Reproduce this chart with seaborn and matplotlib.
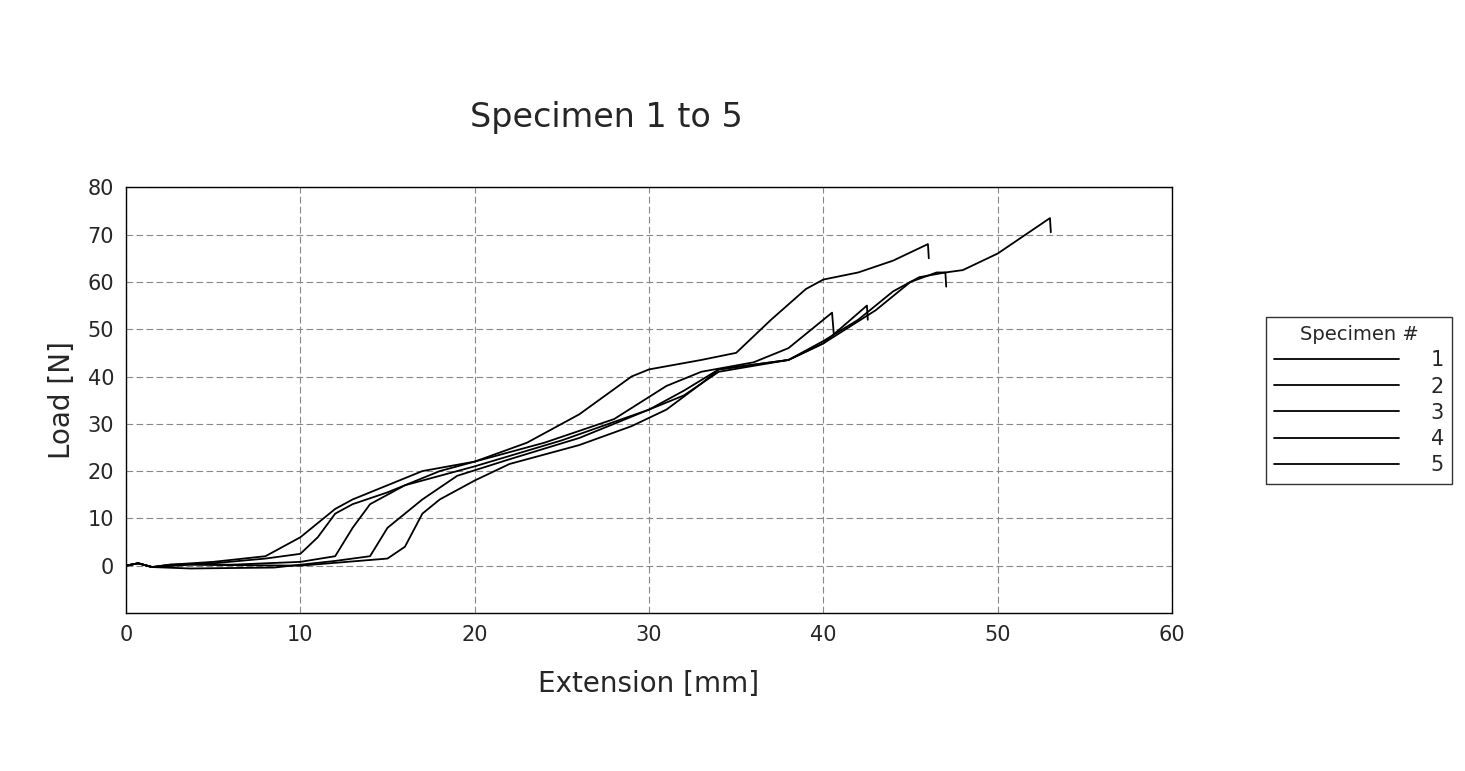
import numpy as np
import pandas as pd
import matplotlib
matplotlib.use("Agg")
import matplotlib.pyplot as plt
import seaborn as sns
from matplotlib.ticker import MultipleLocator

# Extension [mm] / Load [N], one pair of lists per specimen
ext_1 = [0, 0.7, 1.5, 2.5, 5, 8, 9, 10, 11, 12, 13, 15, 17, 20, 23, 26, 29, 30, 33, 35, 37, 39, 40, 42, 44, 46, 46.05]
load_1 = [0, 0.5, -0.3, 0.2, 0.8, 2, 4, 6, 9, 12, 14, 17, 20, 22, 26, 32, 40, 41.5, 43.5, 45, 52, 58.5, 60.5, 62, 64.5, 68, 65]
ext_2 = [0, 0.7, 1.5, 2.5, 5, 8, 10, 11, 12, 13, 15, 18, 20, 24, 28, 31, 33, 36, 38, 40.5, 40.6]
load_2 = [0, 0.5, -0.3, 0.2, 0.5, 1.5, 2.5, 6, 11, 13, 15.5, 20, 22, 26, 31, 38, 41, 43, 46, 53.5, 49]
ext_3 = [0, 0.7, 1.5, 3.5, 6, 10, 12, 13, 14, 16, 20, 25, 30, 32, 34, 38, 40, 42.5, 42.55]
load_3 = [0, 0.5, -0.3, 0.3, 0.2, 0.8, 2, 8, 13, 17, 21, 26.5, 33, 37, 41.5, 43.5, 47, 55, 52]
ext_4 = [0, 0.7, 1.5, 3.7, 8.5, 12, 14, 15, 17, 19, 22, 26, 30, 32, 34, 38, 40, 43, 45, 46.5, 47, 47.05]
load_4 = [0, 0.5, -0.3, -0.6, -0.4, 1, 2, 8, 14, 19, 22.5, 27, 33, 36, 41, 43.5, 47, 54, 60, 62, 62, 59]
ext_5 = [0, 0.7, 1.5, 3.7, 10, 15, 16, 17, 18, 20, 22, 26, 29, 31, 33, 34, 36, 38, 40, 42, 44, 45.5, 47, 48, 50, 52, 53, 53.05]
load_5 = [0, 0.5, -0.3, 0.2, 0, 1.5, 4, 11, 14, 18, 21.5, 25.5, 29.5, 33, 38.5, 41.5, 42.5, 43.5, 47.5, 52, 58, 61, 62, 62.5, 66, 71, 73.5, 70.5]

specimens = ["1", "2", "3", "4", "5"]
series = [(ext_1, load_1), (ext_2, load_2), (ext_3, load_3), (ext_4, load_4), (ext_5, load_5)]

df = pd.concat(
    [pd.DataFrame({"Extension": e, "Load": l, "Specimen": s, "order": range(len(e))})
     for s, (e, l) in zip(specimens, series)],
    ignore_index=True,
)

sns.set_style("white")
plt.rcParams["font.family"] = ["DejaVu Sans"]

fig = plt.figure(figsize=(14.65, 7.71), dpi=100)
ax = fig.add_axes([0.086, 0.205, 0.714, 0.552])

sns.lineplot(data=df, x="Extension", y="Load", hue="Specimen", units="Specimen",
             estimator=None, sort=False, palette=["black"] * 5, linewidth=1.3, ax=ax)

ax.set_xlim(0, 60)
ax.set_ylim(-10, 80)
ax.set_xticks(range(0, 61, 10))
ax.set_yticks(range(0, 81, 10))
ax.xaxis.set_minor_locator(MultipleLocator(5))
ax.yaxis.set_minor_locator(MultipleLocator(5))
ax.tick_params(which="both", direction="out", length=5, width=1, labelsize=15)
ax.grid(True, which="major", color="#888888", linestyle=(0, (6, 3)), linewidth=0.8)
for sp in ax.spines.values():
    sp.set_color("black")
    sp.set_linewidth(1)
ax.set_xlabel("Extension [mm]", fontsize=20, labelpad=18)
ax.set_ylabel("Load [N]", fontsize=20, labelpad=8)
fig.text(0.414, 0.848, "Specimen 1 to 5", fontsize=24, ha="center", va="center")

handles, labels = ax.get_legend_handles_labels()
leg = ax.legend(handles, labels, title="Specimen #", loc="center left",
                bbox_to_anchor=(1.08, 0.5), fontsize=15, title_fontsize=14,
                frameon=True, fancybox=False, edgecolor="black", handlelength=6,
                labelspacing=0.3, handletextpad=1.5)
leg.get_frame().set_linewidth(1)

fig.savefig("out.png", dpi=100, facecolor="white")
